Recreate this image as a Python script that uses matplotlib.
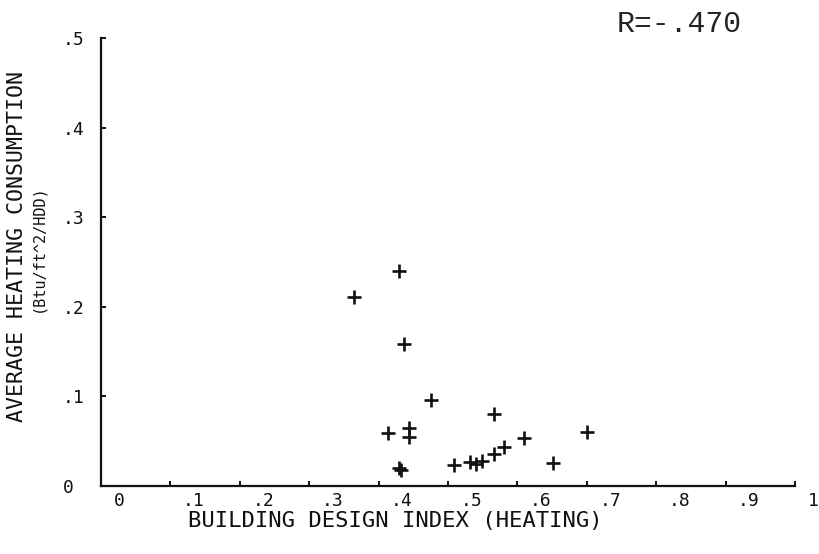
import matplotlib
matplotlib.use("Agg")
import matplotlib.pyplot as plt
import matplotlib.transforms as mtransforms

# ---- data ----
design_index = [0.365, 0.429, 0.436, 0.475, 0.413, 0.444, 0.444, 0.430, 0.432,
                0.567, 0.509, 0.532, 0.540, 0.549, 0.567, 0.581, 0.610, 0.651, 0.700]
heating_cons = [0.211, 0.240, 0.159, 0.096, 0.059, 0.065, 0.055, 0.020, 0.018,
                0.080, 0.023, 0.027, 0.025, 0.028, 0.036, 0.044, 0.054, 0.026, 0.060]
x_ticks = [0.0, 0.1, 0.2, 0.3, 0.4, 0.5, 0.6, 0.7, 0.8, 0.9, 1.0]
x_tick_labels = ["0", ".1", ".2", ".3", ".4", ".5", ".6", ".7", ".8", ".9", "1"]
y_ticks = [0.0, 0.1, 0.2, 0.3, 0.4, 0.5]
y_tick_labels = ["0", ".1", ".2", ".3", ".4", ".5"]
x_title = "BUILDING DESIGN INDEX (HEATING)"
y_title_1 = "AVERAGE HEATING CONSUMPTION"
y_title_2 = "(Btu/ft^2/HDD)"
r_text = "R=-.470"

W, H = 819, 554
fig = plt.figure(figsize=(W / 100, H / 100), dpi=100)
fig.patch.set_facecolor("white")

left, right, bottom, top = 101, 795, 486, 38
ax = fig.add_axes([left / W, 1 - bottom / H, (right - left) / W, (bottom - top) / H])
ax.set_xlim(0, 1)
ax.set_ylim(0, 0.5)

ink = "#111111"
ax.plot(design_index, heating_cons, linestyle="none", marker="+",
        markersize=9.5, markeredgewidth=1.9, color=ink, clip_on=False)

for s in ["top", "right"]:
    ax.spines[s].set_visible(False)
for s in ["left", "bottom"]:
    ax.spines[s].set_linewidth(1.6)
    ax.spines[s].set_color(ink)

mono = "DejaVu Sans Mono"
ax.set_xticks(x_ticks)
ax.set_xticklabels(x_tick_labels, fontfamily=mono, fontsize=13, color=ink)
ax.set_yticks(y_ticks)
ax.set_yticklabels(y_tick_labels, fontfamily=mono, fontsize=13, color=ink)
ax.tick_params(axis="both", direction="in", length=3.5, width=1.4, color=ink)
ax.tick_params(axis="x", pad=4.5)
ax.tick_params(axis="y", pad=38 * 72 / 100)

xoff = mtransforms.ScaledTranslation(12.5 / 100, 0, fig.dpi_scale_trans)
for lab in ax.get_xticklabels():
    lab.set_horizontalalignment("left")
    lab.set_transform(lab.get_transform() + xoff)
for lab in ax.get_yticklabels():
    lab.set_horizontalalignment("left")

fig.text(395 / W, 1 - 521 / H, x_title, fontfamily=mono, fontsize=16,
         ha="center", va="center", color=ink)
fig.text(17 / W, 1 - 247 / H, y_title_1, fontfamily=mono, fontsize=15.5,
         rotation=90, ha="center", va="center", color=ink)
fig.text(37.5 / W, 1 - 248 / H, y_title_2, fontfamily=mono, fontsize=11,
         rotation=90, ha="center", va="center", color=ink)
fig.text(617 / W, 1 - 24 / H, r_text, fontfamily="Liberation Mono", fontsize=21.5,
         ha="left", va="center", color="#222222")

fig.savefig("out.png", dpi=100, facecolor="white")
